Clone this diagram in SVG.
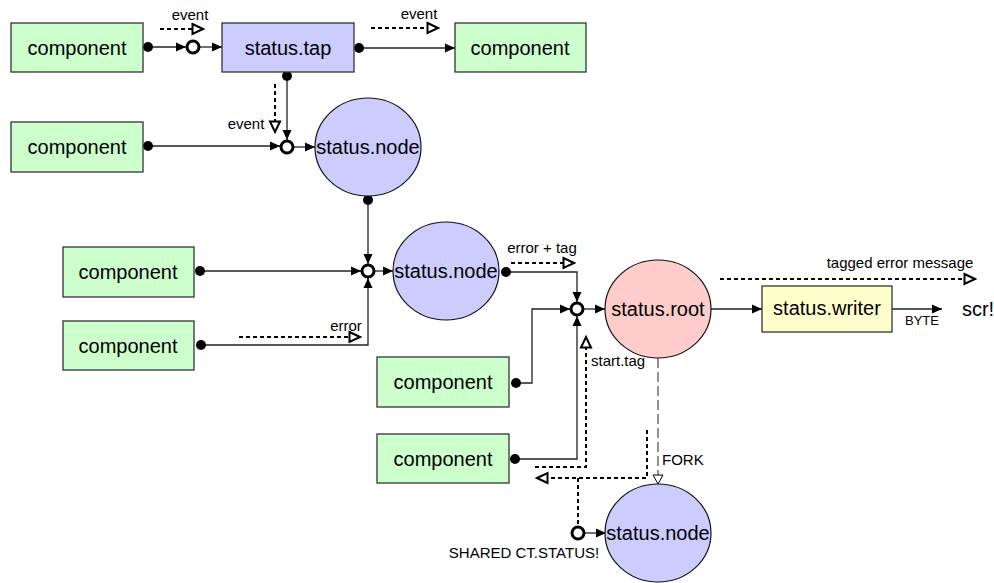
<svg xmlns="http://www.w3.org/2000/svg" width="994" height="583" viewBox="0 0 994 583">
<defs>
<style>
.comp{fill:#ccffcc;stroke:#333;stroke-width:1.3}
.tap{fill:#ccccff;stroke:#333;stroke-width:1.3}
.node{fill:#ccccff;stroke:#111;stroke-width:1.2}
.root{fill:#ffcccc;stroke:#111;stroke-width:1.2}
.writer{fill:#ffffcc;stroke:#333;stroke-width:1.3}
.t{font-family:"Liberation Sans",Arial,sans-serif;font-size:20px;fill:#000;text-anchor:middle}
.s{font-family:"Liberation Sans",Arial,sans-serif;font-size:15px;fill:#000}
.b{font-family:"Liberation Sans",Arial,sans-serif;font-size:13px;fill:#000}
.ln{fill:none;stroke:#222;stroke-width:1.3;marker-end:url(#ah)}
.dl{fill:none;stroke:#000;stroke-width:2;stroke-dasharray:4,3;marker-end:url(#oh)}
.dn{fill:none;stroke:#000;stroke-width:2;stroke-dasharray:4,3}
.fork{fill:none;stroke:#777;stroke-width:1.6;stroke-dasharray:10,4;marker-end:url(#fh)}
.dot{fill:#000}
.jn{fill:#fff;stroke:#000;stroke-width:3}
</style>
<marker id="ah" markerUnits="userSpaceOnUse" markerWidth="11" markerHeight="11" refX="10" refY="5.5" orient="auto">
<path d="M0,1 L10,5.5 L0,10 z" fill="#000"/>
</marker>
<marker id="oh" markerUnits="userSpaceOnUse" markerWidth="14" markerHeight="14" refX="12" refY="7" orient="auto">
<path d="M1.5,2 L12,7 L1.5,12 z" fill="#fff" stroke="#000" stroke-width="2"/>
</marker>
<marker id="fh" markerUnits="userSpaceOnUse" markerWidth="12" markerHeight="12" refX="10" refY="6" orient="auto">
<path d="M1,1 L10,6 L1,11 z" fill="#fff" stroke="#000" stroke-width="1"/>
</marker>
</defs>
<rect width="994" height="583" fill="#fff"/>

<g id="connectors">
<path class="ln" d="M148,47 L186,47"/>
<path class="ln" d="M200,47 L222,47"/>
<path class="dl" d="M160,29 L203,29"/>
<path class="ln" d="M359,48 L455,48"/>
<path class="dl" d="M371,28 L438,28"/>
<path class="ln" d="M287,76 L287,140"/>
<path class="dl" d="M275,84 L275,132"/>
<path class="ln" d="M148,146 L280,146"/>
<path class="ln" d="M294,147 L315,147"/>
<path class="ln" d="M368,200 L368,264"/>
<path class="ln" d="M200,271 L361,271"/>
<path class="ln" d="M201,345 L368,345 L368,278"/>
<path class="dl" d="M239,337 L360,337"/>
<path class="ln" d="M375,271 L393,271"/>
<path class="ln" d="M506,272 L577,272 L577,302"/>
<path class="dl" d="M511,263 L574,263"/>
<path class="ln" d="M516,383 L532,383 L532,309 L570,309"/>
<path class="ln" d="M515,459 L577,459 L577,316"/>
<path class="dl" d="M535,467 L586,467 L586,337"/>
<path class="ln" d="M584,309 L605,309"/>
<path class="ln" d="M711,309 L762,309"/>
<path class="dl" d="M720,279 L975,279"/>
<path class="ln" d="M892,309 L942,309"/>
<path class="fork" d="M658,358 L658,484"/>
<path class="dl" d="M647,430 L647,478 L537,478"/>
<path class="dn" d="M578,478 L578,526"/>
<path class="ln" d="M585,533 L606,533"/>

<circle class="dot" cx="148" cy="47" r="5"/>
<circle class="dot" cx="359" cy="48" r="5"/>
<circle class="dot" cx="287" cy="76" r="5"/>
<circle class="dot" cx="148" cy="146" r="5"/>
<circle class="dot" cx="368" cy="200" r="5"/>
<circle class="dot" cx="200" cy="271" r="5"/>
<circle class="dot" cx="201" cy="345" r="5"/>
<circle class="dot" cx="506" cy="272" r="5"/>
<circle class="dot" cx="516" cy="383" r="5"/>
<circle class="dot" cx="515" cy="459" r="5"/>

<circle class="jn" cx="193" cy="47" r="6"/>
<circle class="jn" cx="287" cy="147" r="6"/>
<circle class="jn" cx="368" cy="271" r="6"/>
<circle class="jn" cx="577" cy="309" r="6"/>
<circle class="jn" cx="578" cy="533" r="6"/>

<text class="s" x="190" y="20" text-anchor="middle">event</text>
<text class="s" x="419" y="19" text-anchor="middle">event</text>
<text class="s" x="246" y="129" text-anchor="middle">event</text>
<text class="s" x="346" y="331" text-anchor="middle">error</text>
<text class="s" x="542" y="253" text-anchor="middle">error + tag</text>
<text class="s" x="591" y="366">start.tag</text>
<text class="s" x="900" y="268" text-anchor="middle">tagged error message</text>
<text class="b" x="922" y="325" text-anchor="middle">BYTE</text>
<text class="s" x="662" y="465">FORK</text>
<text class="s" x="524" y="558" text-anchor="middle">SHARED CT.STATUS!</text>
<text class="t" x="978" y="316">scr!</text>
</g>

<g id="component1"><rect class="comp" x="11" y="23" width="132" height="49"/><text class="t" x="77" y="55">component</text></g>
<g id="status-tap"><rect class="tap" x="222" y="23" width="132" height="49"/><text class="t" x="288" y="55">status.tap</text></g>
<g id="component2"><rect class="comp" x="455" y="23" width="131" height="49"/><text class="t" x="520" y="55">component</text></g>
<g id="component3"><rect class="comp" x="11" y="122" width="132" height="50"/><text class="t" x="77" y="154">component</text></g>
<g id="status-node1"><ellipse class="node" cx="368" cy="147" rx="53" ry="49"/><text class="t" x="368" y="154">status.node</text></g>
<g id="component4"><rect class="comp" x="63" y="247" width="131" height="50"/><text class="t" x="128" y="279">component</text></g>
<g id="component5"><rect class="comp" x="63" y="321" width="131" height="49"/><text class="t" x="128" y="353">component</text></g>
<g id="status-node2"><ellipse class="node" cx="446" cy="271" rx="53" ry="49"/><text class="t" x="446" y="278">status.node</text></g>
<g id="status-root"><ellipse class="root" cx="658" cy="309" rx="53" ry="49"/><text class="t" x="658" y="316">status.root</text></g>
<g id="status-writer"><rect class="writer" x="762" y="286" width="130" height="46"/><text class="t" x="827" y="315">status.writer</text></g>
<g id="component6"><rect class="comp" x="377" y="357" width="132" height="50"/><text class="t" x="443" y="389">component</text></g>
<g id="component7"><rect class="comp" x="377" y="434" width="132" height="49"/><text class="t" x="443" y="466">component</text></g>
<g id="status-node3"><ellipse class="node" cx="658" cy="533" rx="53" ry="49"/><text class="t" x="658" y="540">status.node</text></g>
</svg>
